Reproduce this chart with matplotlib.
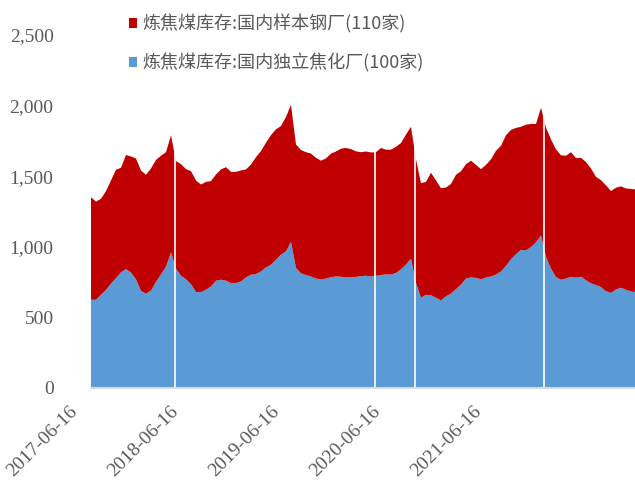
import numpy as np
import matplotlib
matplotlib.use("Agg")
import matplotlib.pyplot as plt
from matplotlib.patches import Patch
from matplotlib.transforms import ScaledTranslation

# ---- data (approx. readings, roughly two-week spacing) ----
coking_plants = [625, 625, 660, 695, 740, 778, 820, 842, 818, 770,
                 688, 668, 690, 752, 805, 858, 960, 845, 795, 770,
                 735, 680, 679, 696, 719, 760, 767, 760, 743, 743,
                 755, 783, 802, 807, 826, 854, 873, 909, 944, 968,
                 1035, 850, 812, 800, 790, 775, 768, 775, 785, 790,
                 788, 783, 784, 787, 792, 795, 790, 795, 800, 805,
                 803, 815, 840, 875, 915, 743, 640, 660, 657, 640,
                 620, 650, 668, 700, 733, 775, 783, 780, 770, 783,
                 790, 803, 825, 865, 912, 948, 978, 975, 998, 1032,
                 1080, 930, 845, 785, 767, 775, 788, 781, 788, 763,
                 741, 729, 715, 685, 674, 698, 710, 695, 684, 679]
steel_mills = [726, 695, 680, 699, 730, 767, 740, 808, 822, 855,
               852, 842, 865, 863, 840, 812, 830, 762, 790, 780,
               801, 790, 762, 764, 746, 752, 781, 804, 788, 788,
               786, 765, 781, 828, 852, 883, 918, 923, 911, 952,
               970, 875, 873, 870, 870, 855, 842, 851, 875, 885,
               907, 917, 908, 889, 878, 880, 878, 875, 900, 883,
               885, 893, 895, 920, 935, 876, 810, 800, 867, 830,
               795, 770, 777, 810, 802, 810, 827, 800, 780, 797,
               830, 877, 890, 925, 916, 894, 872, 890, 872, 838,
               905, 915, 915, 905, 881, 870, 882, 847, 842, 837,
               814, 766, 757, 750, 721, 720, 718, 718, 726, 727]
gap_positions = [16.7, 56.8, 64.7, 90.5]   # missing-data weeks
tick_labels = ["2017-06-16", "2018-06-16", "2019-06-16", "2020-06-16", "2021-06-16"]
label_steel = "炼焦煤库存:国内样本钢厂(110家)"
label_coke = "炼焦煤库存:国内独立焦化厂(100家)"

RED = "#C00000"
BLUE = "#5B9BD5"
GRAY = "#595959"

x = np.arange(len(coking_plants))

fig = plt.figure(figsize=(6.35, 4.88), dpi=100)
ax = fig.add_axes([91/635, 1 - 388/488, 1 - 91/635, (388 - 35)/488])

ax.stackplot(x, coking_plants, steel_mills, colors=[BLUE, RED], lw=0, antialiased=True)
for g in gap_positions:
    ax.axvline(g, color="white", lw=1.2)

ax.set_xlim(0, 108.8)
ax.set_ylim(0, 2500)
ax.set_yticks(np.arange(0, 2501, 500))
ax.set_yticklabels([f"{v:,}" for v in range(0, 2501, 500)],
                   fontfamily="Liberation Serif", fontsize=14, color=GRAY)
ax.tick_params(axis="y", length=0, pad=27)

tick_pos = np.arange(len(tick_labels)) * 20.2
ax.set_xticks(tick_pos)
ax.set_xticklabels(tick_labels, rotation=45, ha="right", rotation_mode="anchor",
                   fontfamily="Liberation Serif", fontsize=14, color=GRAY)
ax.tick_params(axis="x", length=0, pad=10)
offset = ScaledTranslation(-22/100, -1/100, fig.dpi_scale_trans)
for lab in ax.get_xticklabels():
    lab.set_transform(lab.get_transform() + offset)

for s in ["left", "right", "top"]:
    ax.spines[s].set_visible(False)
ax.spines["bottom"].set_color("#D9D9D9")
ax.spines["bottom"].set_linewidth(1.5)

handles = [Patch(facecolor=RED, edgecolor="none"), Patch(facecolor=BLUE, edgecolor="none")]
fig.legend(handles, [label_steel, label_coke], loc="upper left",
           bbox_to_anchor=(129/635, 1 - 14/488), frameon=False,
           prop={"family": ["Noto Sans CJK SC", "DejaVu Sans"], "size": 13},
           labelcolor=GRAY, handlelength=0.45, handleheight=0.45,
           handletextpad=0.3, labelspacing=1.1, borderpad=0, borderaxespad=0)

fig.savefig("out.png", dpi=100)
